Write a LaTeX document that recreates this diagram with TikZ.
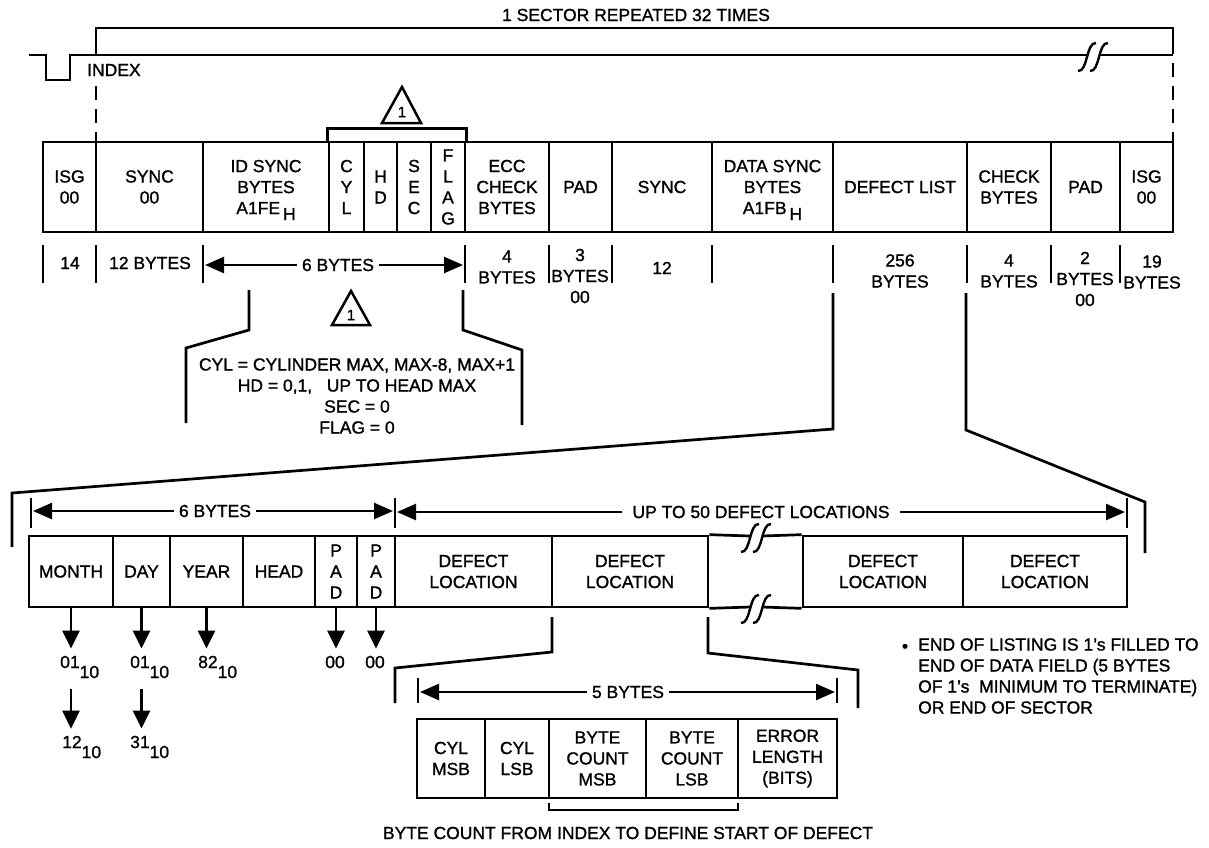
\documentclass[tikz,border=0pt]{standalone}
\usepackage{fontspec}
\setmainfont[FakeBold=1.2]{Liberation Sans}
\usetikzlibrary{arrows.meta}
\newcommand{\lo}[1]{\raisebox{-10pt}[0pt][0pt]{#1}}
\newcommand{\hx}[1]{\,\raisebox{-6pt}[0pt][0pt]{#1}}
% break mark: two s-curves centred at (#1,#2)
\newcommand{\brk}[2]{%
  \draw[line width=2.4pt] ({#1-15},{#2+14}) .. controls +(10,1) and +(-10,-1) .. ({#1+3},{#2-14});
  \draw[line width=2.4pt] ({#1-3},{#2+14}) .. controls +(10,1) and +(-10,-1) .. ({#1+15},{#2-14});}

\begin{document}
\begin{tikzpicture}[x=1pt, y=-1pt, font=\fontsize{17.5}{21}\selectfont,
    cell/.style={draw, line width=2.7pt, inner sep=0pt, align=center},
    toprow/.style={cell, minimum height=90},
    dlrow/.style={cell, minimum height=71},
    locrow/.style={cell, minimum height=79},
    lbl/.style={align=center, inner sep=1pt},
    dimlbl/.style={lbl, inner xsep=5pt},
    val/.style={inner xsep=0pt, inner ysep=7pt},
    wire/.style={line width=2.7pt},
    dim/.style={line width=2.5pt, -{Triangle[length=19pt,width=16pt]}},
    down/.style={line width=2.7pt, -{Triangle[length=18pt,width=17pt]}},
    notemark/.style={font=\fontsize{15}{17}\selectfont, inner sep=0pt}]
\useasboundingbox (0,0) rectangle (1209,847);

% sector bracket and index pulse
\node[lbl] (sector) at (636,15) {1 SECTOR REPEATED 32 TIMES};
\draw[wire] (96,40) -- (96,28) -- (1173,28) -- (1173,40);
\draw[wire, dash pattern=on 14pt off 9pt] (96,40) -- (96,142);
\draw[wire, dash pattern=on 14pt off 9pt] (1173,40) -- (1173,142);
\draw[wire] (29,55) -- (46,55) -- (46,80) -- (70,80) -- (70,55) -- (1087,55);
\draw[wire] (1099,55) -- (1173,55);
\brk{1093}{57}
\node[lbl, fill=white, anchor=west] (index) at (86,70) {INDEX};

% sector format
\node[toprow, minimum width=53] (isgA) at (69.5,187) {ISG\\00};
\node[toprow, minimum width=107] (syncA) at (149.5,187) {SYNC\\00};
\node[toprow, minimum width=126] (idsync) at (266,187) {ID SYNC\\BYTES\\A1FE\hx{H}};
\node[toprow, minimum width=35] (cyl) at (346.5,187) {C\\Y\\L};
\node[toprow, minimum width=33] (hd) at (380.5,187) {H\\D};
\node[toprow, minimum width=34] (sec) at (414,187) {S\\E\\C};
\node[toprow, minimum width=34] (flag) at (448,187) {F\\L\\A\\G};
\node[toprow, minimum width=84] (ecc) at (507,187) {ECC\\CHECK\\BYTES};
\node[toprow, minimum width=63] (padA) at (580.5,187) {PAD};
\node[toprow, minimum width=100] (syncB) at (662,187) {SYNC};
\node[toprow, minimum width=121] (datasync) at (772.5,187) {DATA SYNC\\BYTES\\A1FB\hx{H}};
\node[toprow, minimum width=134] (defect) at (900,187) {DEFECT LIST};
\node[toprow, minimum width=84] (check) at (1009,187) {CHECK\\BYTES};
\node[toprow, minimum width=69] (padB) at (1085.5,187) {PAD};
\node[toprow, minimum width=53] (isgB) at (1146.5,187) {ISG\\00};

\draw[wire] (cyl.north west) -- ++(0,-12) -| (flag.north east);
\draw[line width=2.5pt] (382,123) -- (402,87) -- (421,123) -- cycle;
\node[notemark] (noteA) at (402,112) {1};

% byte counts
\draw[wire] (43,245) -- (43,283) (96,245) -- (96,283) (203,245) -- (203,283)
  (465,245) -- (465,283) (549,245) -- (549,283) (612,245) -- (612,283)
  (712,245) -- (712,283) (833,245) -- (833,283) (967,245) -- (967,283)
  (1051,245) -- (1051,283) (1120,245) -- (1120,283);
\node[lbl] (c14) at (70,263) {14};
\node[lbl] (c12b) at (150,263) {12 BYTES};
\node[dimlbl] (c6b) at (338,265) {6 BYTES};
\coordinate (idL) at (205,265);
\coordinate (idR) at (463,265);
\draw[dim] (c6b.west) -- (idL);
\draw[dim] (c6b.east) -- (idR);
\node[lbl] (c4a) at (507,267) {4\\BYTES};
\node[lbl] (c3) at (580,276) {3\\BYTES\\00};
\node[lbl] (c12) at (662,268) {12};
\node[lbl] (c256) at (900,271) {256\\BYTES};
\node[lbl] (c4b) at (1009,271) {4\\BYTES};
\node[lbl] (c2) at (1085,279) {2\\BYTES\\00};
\node[lbl] (c19) at (1152,272) {19\\BYTES};

% id field detail
\draw[wire] (249,290) -- (249,330) -- (186,348) -- (186,423);
\draw[wire] (463,290) -- (463,330) -- (522,350) -- (522,425);
\draw[line width=2.5pt] (332,325) -- (351,291) -- (370,325) -- cycle;
\node[notemark] (noteB) at (351,315) {1};
\node[lbl] (idnote) at (357,396) {CYL = CYLINDER MAX, MAX-8, MAX+1\\HD = 0,1,\ \ \ UP TO HEAD MAX\\SEC = 0\\FLAG = 0};

% defect list detail
\draw[wire] (833,293) -- (833,429) -- (12,493) -- (12,547);
\draw[wire] (966,293) -- (966,430) -- (1145,502) -- (1145,553);
\draw[wire] (31,498) -- (31,528) (395,498) -- (395,528) (1127,498) -- (1127,528);
\node[dimlbl] (six) at (215,511) {6 BYTES};
\node[lbl, inner xsep=10pt] (upto) at (761,512) {UP TO 50 DEFECT LOCATIONS};
\coordinate (dlA) at (33,511);
\coordinate (dlB) at (393,511);
\coordinate (dlC) at (397,512);
\coordinate (dlD) at (1125,512);
\draw[dim] (six.west) -- (dlA);
\draw[dim] (six.east) -- (dlB);
\draw[dim] (upto.west) -- (dlC);
\draw[dim] (upto.east) -- (dlD);

\node[dlrow, minimum width=84] (month) at (71,571.5) {MONTH};
\node[dlrow, minimum width=57] (day) at (141.5,571.5) {DAY};
\node[dlrow, minimum width=73] (year) at (206.5,571.5) {YEAR};
\node[dlrow, minimum width=72] (head) at (279,571.5) {HEAD};
\node[dlrow, minimum width=42] (padC) at (336,571.5) {P\\A\\D};
\node[dlrow, minimum width=38] (padD) at (376,571.5) {P\\A\\D};
\node[dlrow, minimum width=157] (locA) at (473.5,571.5) {DEFECT\\LOCATION};
\node[dlrow, minimum width=156] (locB) at (630,571.5) {DEFECT\\LOCATION};
\node[dlrow, minimum width=160] (locC) at (883,571.5) {DEFECT\\LOCATION};
\node[dlrow, minimum width=164] (locD) at (1045,571.5) {DEFECT\\LOCATION};
\draw[wire] (locB.north east) -- (750,536) (762,536) -- (locC.north west);
\draw[wire] (locB.south east) -- (750,607) (762,607) -- (locC.south west);
\brk{756}{538}
\brk{756}{609}

% date and pad values
\node[val, anchor=west] (mon1) at (60,662) {01\lo{10}};
\node[val, anchor=west] (day1) at (130,662) {01\lo{10}};
\node[val, anchor=west] (yr1) at (198,662) {82\lo{10}};
\node[val] (pd1) at (335,662) {00};
\node[val] (pd2) at (375,662) {00};
\node[val, anchor=west] (mon2) at (62,742) {12\lo{10}};
\node[val, anchor=west] (day2) at (130,742) {31\lo{10}};
\draw[down] (month.south) -- (month.south |- mon1.north);
\draw[down] (day.south) -- (day.south |- day1.north);
\draw[down] (year.south) -- (year.south |- yr1.north);
\draw[down] (padC.south) -- (padC.south |- pd1.north);
\draw[down] (padD.south) -- (padD.south |- pd2.north);
\draw[down, shorten <=14pt] (month.south |- mon1.south) -- (month.south |- mon2.north);
\draw[down, shorten <=14pt] (day.south |- day1.south) -- (day.south |- day2.north);

% defect location detail
\draw[wire] (552,617) -- (552,652) -- (395,668) -- (395,703);
\draw[wire] (708,617) -- (708,653) -- (858,670) -- (858,708);
\draw[wire] (418,678) -- (418,703) (837,678) -- (837,703);
\node[dimlbl] (five) at (628,692) {5 BYTES};
\coordinate (lcA) at (420,692);
\coordinate (lcB) at (835,692);
\draw[dim] (five.west) -- (lcA);
\draw[dim] (five.east) -- (lcB);
\node[locrow, minimum width=68] (cylmsb) at (451,758.5) {CYL\\MSB};
\node[locrow, minimum width=64] (cyllsb) at (517,758.5) {CYL\\LSB};
\node[locrow, minimum width=97] (bcmsb) at (597.5,758.5) {BYTE\\COUNT\\MSB};
\node[locrow, minimum width=92] (bclsb) at (692,758.5) {BYTE\\COUNT\\LSB};
\node[locrow, minimum width=99] (errlen) at (787.5,758.5) {ERROR\\LENGTH\\(BITS)};
\draw[wire] (549,803) -- (549,810) -- (738,810) -- (738,803);
\node[lbl] (bcnote) at (628,833) {BYTE COUNT FROM INDEX TO DEFINE START OF DEFECT};

% end of listing note
\node[lbl] (bullet) at (905,648) {•};
\node[lbl, align=left, anchor=west, inner sep=3pt] (endnote) at (915,676) {END OF LISTING IS 1's FILLED TO\\END OF DATA FIELD (5 BYTES\\OF 1's\ \ MINIMUM TO TERMINATE)\\OR END OF SECTOR};
\end{tikzpicture}
\end{document}
